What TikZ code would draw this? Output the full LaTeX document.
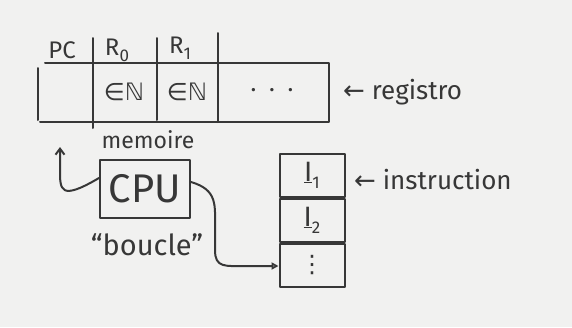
\documentclass[tikz,border=0pt]{standalone}
\usepackage{fontspec}
\setmainfont{Fira Sans}
\newfontfamily\symfont{DejaVu Sans}
\usetikzlibrary{arrows.meta}
\definecolor{paper}{RGB}{241,241,240}
\definecolor{ink}{RGB}{55,55,55}
\tikzset{
  pen/.style={draw=ink, line width=2pt, line cap=round, line join=round},
  lbl/.style={text=ink, inner sep=0pt},
  cell/.style={pen, minimum width=65pt, minimum height=43pt, inner sep=0pt},
}
\newcommand{\sub}[1]{\raisebox{-0.25em}{\fontsize{17}{19}\selectfont #1}}
\begin{document}
\begin{tikzpicture}[x=1pt,y=-1pt]
\fill[paper] (0,0) rectangle (572,327);
\useasboundingbox (0,0) rectangle (572,327);
% register table
\coordinate (tl) at (45,63);
\coordinate (tr) at (329,63);
\coordinate (bl) at (40,122);
\coordinate (br) at (329,122);
\draw[pen] (tl) -- (tr) -- (br) -- (bl);
\draw[pen] (38,68) -- (38,120);
\draw[pen] (93,38) -- (93,128);
\draw[pen] (157,38) -- (157,120);
\draw[pen] (218,33) -- (218,122);
\node[lbl, font=\fontsize{24}{28}\selectfont] (pc) at (62,50) {PC};
\node[lbl, font=\fontsize{24}{28}\selectfont] (r0) at (117,50) {R\sub{0}};
\node[lbl, font=\fontsize{24}{28}\selectfont] (r1) at (180,48) {R\sub{1}};
\node[lbl, font=\fontsize{24}{28}\selectfont] (n0) at (124,92) {{\symfont ∈ℕ}};
\node[lbl, font=\fontsize{24}{28}\selectfont] (n1) at (187,92) {{\symfont ∈ℕ}};
\node[lbl, font=\fontsize{24}{28}\selectfont] (dots) at (272,90) {.\ \ .\ \ .};
\node[lbl, font=\fontsize{26}{30}\selectfont, anchor=west] (reg) at (343,92) {{\symfont ←} registro};
\node[lbl, font=\fontsize{23}{27}\selectfont] (mem) at (148,140) {memoire};
% CPU
\node[pen, minimum width=90pt, minimum height=58pt, inner sep=0pt, font=\fontsize{40}{44}\selectfont, text=ink] (cpu) at (145,189) {CPU};
\node[lbl, font=\fontsize{29}{33}\selectfont] (boucle) at (147,245) {“boucle”};
% instruction stack
\node[cell, font=\fontsize{28}{32}\selectfont, text=ink] (i1) at (312,175) {\underline{I}\sub{1}};
\node[cell, anchor=north, font=\fontsize{28}{32}\selectfont, text=ink] (i2) at (i1.south) {\underline{I}\sub{2}};
\node[cell, anchor=north, font=\fontsize{24}{28}\selectfont, text=ink] (i3) at (i2.south) {{\symfont ⋮}};
\node[lbl, font=\fontsize{26}{30}\selectfont, anchor=west] (ins) at (354,180) {{\symfont ←} instruction};
% arrows
\coordinate (up) at (60,147);
\draw[pen, -{Straight Barb[length=6pt,width=9pt]}] ([yshift=11pt]cpu.west) .. controls (60,201) and (60,190) .. (60,170) -- (up);
\draw[pen, -{Triangle[open,length=7pt,width=7pt]}] ([yshift=7pt]cpu.east) .. controls (218,190) and (215,205) .. (215,230) -- (215,250) .. controls (215,268) and (225,266) .. (245,266) -- (i3.west |- 0,266);
\end{tikzpicture}
\end{document}
